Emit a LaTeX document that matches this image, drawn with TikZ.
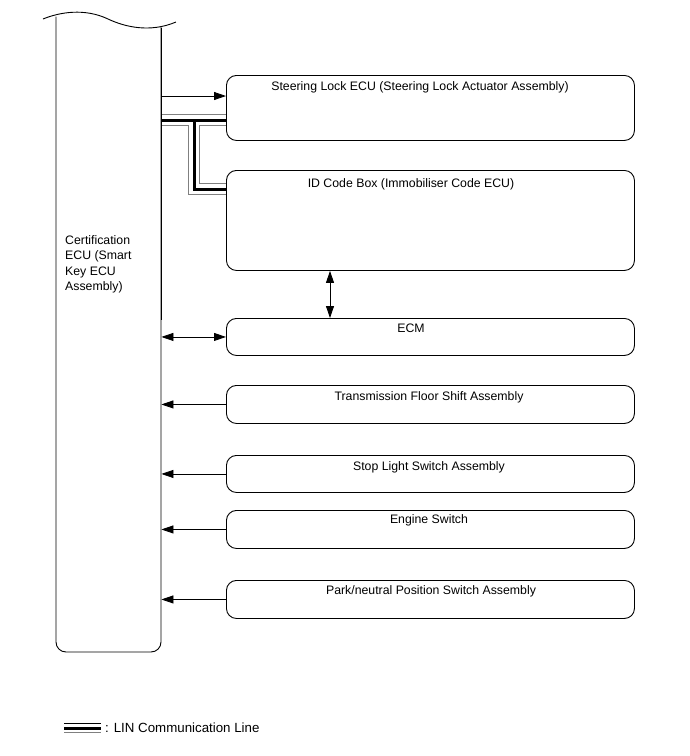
\documentclass[tikz,border=0pt]{standalone}
\usepackage{fontspec}
\setmainfont{Liberation Sans}
\usetikzlibrary{arrows.meta}
\begin{document}
\begin{tikzpicture}[x=1pt,y=-1pt,
  box/.style={draw, line width=0.9pt, rounded corners=10pt, anchor=north west, minimum width=408pt, inner sep=0pt},
  lbl/.style={font=\fontsize{12.3}{14}\selectfont, anchor=north, inner sep=0pt},
  arr/.style={line width=0.8pt, -{Triangle[length=12pt,width=8pt]}},
  darr/.style={line width=0.8pt, {Triangle[length=12pt,width=8pt]}-{Triangle[length=12pt,width=8pt]}},
  linG/.style={gray, line width=12pt},
  linW/.style={white, line width=10pt},
  linB/.style={black, line width=3pt}]
\useasboundingbox (0,0) rectangle (690,756);
% ECU column
\node[minimum width=105pt, minimum height=635pt, inner sep=0pt, anchor=north west] (ecu) at (56,17) {};
\draw[line width=0.9pt] (43,19) .. controls (60,12) and (85,8) .. (108,19) .. controls (125,27) and (150,33) .. (176,22);
\draw[line width=0.9pt, rounded corners=10pt] (56,16.5) -- (56,652) -- (161,652) -- (161,27);
\node[font=\fontsize{12.3}{15.5}\selectfont, align=left, anchor=north west, inner sep=0pt] (ecut) at (65,235) {Certification\\ECU (Smart\\Key ECU\\Assembly)};
% boxes
\node[box, minimum height=65pt] (steer) at (226,75) {};
\node[lbl] (steert) at (420,81) {Steering Lock ECU (Steering Lock Actuator Assembly)};
\node[box, minimum height=100pt] (idb) at (226,170) {};
\node[lbl] (idbt) at (411,178) {ID Code Box (Immobiliser Code ECU)};
\node[box, minimum height=37pt] (ecm) at (226,318) {};
\node[lbl] (ecmt) at (411,324) {ECM};
\node[box, minimum height=38pt] (trans) at (226,385) {};
\node[lbl] (transt) at (429,391) {Transmission Floor Shift Assembly};
\node[box, minimum height=37pt] (stop) at (226,455) {};
\node[lbl] (stopt) at (429,461) {Stop Light Switch Assembly};
\node[box, minimum height=38pt] (eng) at (226,510) {};
\node[lbl] (engt) at (429,514) {Engine Switch};
\node[box, minimum height=38pt] (park) at (226,580) {};
\node[lbl] (parkt) at (431,585) {Park/neutral Position Switch Assembly};
% LIN lines
\coordinate (br) at (194,120);
\foreach \s in {linG,linW,linB}{
  \draw[\s] (ecu.east |- 0,120) -- (steer.west |- 0,120);
  \draw[\s] (br) -- (194,189) -- (idb.west |- 0,189);
}
\draw[line width=0.9pt] (161,28) -- (161,320);
\draw[line width=0.9pt] (steer.north west) ++(0,12) -- ++(0,40);
\draw[line width=0.9pt] (idb.north west) ++(0,12) -- ++(0,60);
% arrows
\draw[arr] (ecu.east |- 0,96) -- (steer.west |- 0,96);
\draw[darr] (idb.south -| 330,0) -- (ecm.north -| 330,0);
\draw[darr] (ecu.east |- ecm.west) -- (ecm.west);
\draw[arr] (trans.west) -- (ecu.east |- trans.west);
\draw[arr] (stop.west) -- (ecu.east |- stop.west);
\draw[arr] (eng.west) -- (ecu.east |- eng.west);
\draw[arr] (park.west) -- (ecu.east |- park.west);
% legend
\coordinate (lg1) at (64,728);
\coordinate (lg2) at (101,728);
\draw[black, line width=0.6pt] (64,723.5) -- (101,723.5);
\draw[gray, line width=0.6pt] (64,732.5) -- (101,732.5);
\draw[black, line width=3pt] (lg1) -- (lg2);
\node[font=\fontsize{13.3}{15}\selectfont, anchor=west, inner sep=0pt] (lgt) at (105,728) {: LIN Communication Line};
\end{tikzpicture}
\end{document}
